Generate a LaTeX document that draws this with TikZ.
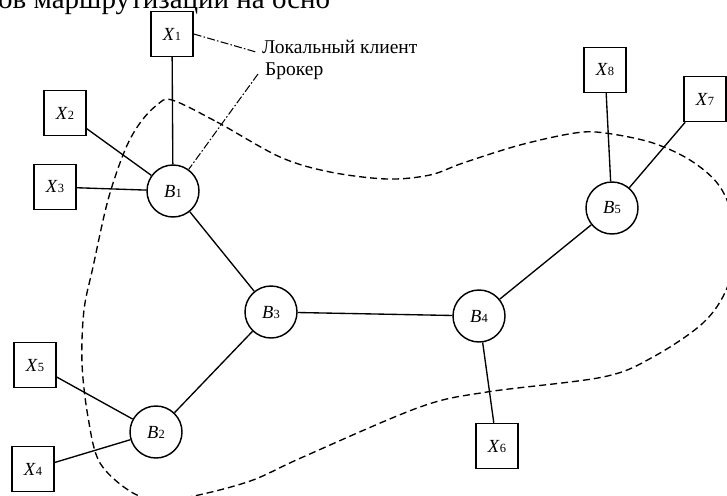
\documentclass[tikz,border=0pt]{standalone}
\usepackage{fontspec}
\setmainfont{Liberation Serif}
\newcommand{\xsub}[2]{\textit{#1}\kern0.3pt{\fontsize{12.5}{12.5}\selectfont #2}}
\begin{document}
\begin{tikzpicture}[x=1pt,y=-1pt,
  client/.style={draw, line width=1.45pt, minimum width=42pt, minimum height=45pt, inner sep=0pt, font=\fontsize{18.5}{18.5}\selectfont},
  broker/.style={draw, circle, line width=1.45pt, minimum size=52pt, inner sep=0pt, font=\fontsize{18.5}{18.5}\selectfont},
  link/.style={line width=1.35pt},
  ann/.style={line width=1.05pt, dash pattern=on 8pt off 2.2pt on 1.6pt off 2.2pt},
  region/.style={line width=1.35pt, dash pattern=on 7pt off 4pt},
  annlabel/.style={font=\fontsize{19.5}{19.5}\selectfont, inner sep=0pt, anchor=base west},
  pagetext/.style={font=\fontsize{29}{29}\selectfont, inner sep=0pt, anchor=base west}
]
\useasboundingbox (0,0) rectangle (727,495);
\begin{scope}
\clip (0,0) rectangle (727,495);
\node[pagetext] (toptext) at (-2,9) {ов маршрутизации на осно};
\end{scope}

% region boundary
\draw[region] plot[smooth cycle, tension=0.55] coordinates {
 (172,100) (217,122) (280,157) (330,172) (387,179) (430,175) (463,163)
 (520,145) (575,133) (605,133) (653,143) (693,162) (722,190) (738,240)
 (727,288) (703,323) (653,357) (603,377) (487,392) (420,407) (303,457)
 (253,480) (203,494) (165,500) (133,493) (100,463) (88,417) (82,363)
 (84,310) (93,267) (108,200) (125,150) (140,123) (157,105)};

% brokers
\node[broker] (B1) at (173,191) {\xsub{B}{1}};
\node[broker] (B2) at (156,432) {\xsub{B}{2}};
\node[broker] (B3) at (271,312) {\xsub{B}{3}};
\node[broker] (B4) at (479,316) {\xsub{B}{4}};
\node[broker] (B5) at (612,208) {\xsub{B}{5}};

% clients
\node[client] (X1) at (172,34) {\xsub{X}{1}};
\node[client] (X2) at (65,113) {\xsub{X}{2}};
\node[client] (X3) at (55,187) {\xsub{X}{3}};
\node[client] (X4) at (33,469) {\xsub{X}{4}};
\node[client] (X5) at (35,365) {\xsub{X}{5}};
\node[client] (X6) at (497,446) {\xsub{X}{6}};
\node[client] (X7) at (705,99) {\xsub{X}{7}};
\node[client] (X8) at (605,70) {\xsub{X}{8}};

% links
\draw[link] (X1) -- (B1);
\draw[link] (X2) -- (B1);
\draw[link] (X3) -- (B1);
\draw[link] (B1) -- (B3);
\draw[link] (B3) -- (B2);
\draw[link] (X5) -- (B2);
\draw[link] (X4) -- (B2);
\draw[link] (B3) -- (B4);
\draw[link] (B4) -- (B5);
\draw[link] (B4) -- (X6);
\draw[link] (B5) -- (X8);
\draw[link] (B5) -- (X7);

% annotations
\node[annlabel] (lk) at (262,53) {Локальный клиент};
\node[annlabel] (br) at (265,75) {Брокер};
\coordinate (lkend) at (256,52);
\coordinate (brend) at (258,74);
\draw[ann] (X1.east) -- (lkend);
\draw[ann] (brend) -- (B1);
\end{tikzpicture}
\end{document}
